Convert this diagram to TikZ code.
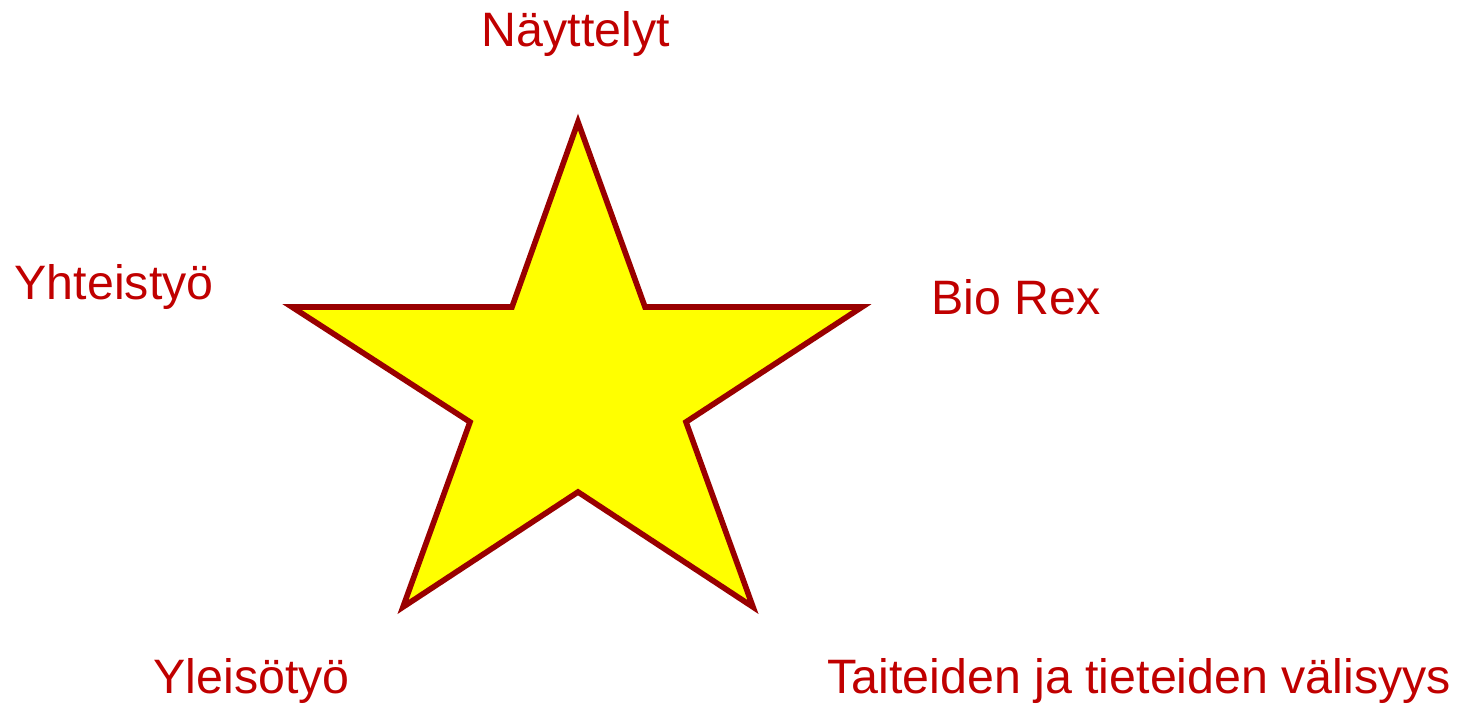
\documentclass[tikz,border=0pt]{standalone}
\usepackage{fontspec}
\setmainfont{Liberation Sans}
\usepackage{tikz}
\usetikzlibrary{positioning}
\definecolor{labelRed}{RGB}{192,0,0}
\definecolor{starEdge}{RGB}{153,0,0}
\definecolor{starFill}{RGB}{255,255,0}

\begin{document}
\begin{tikzpicture}[x=0.1mm, y=-0.1mm,
  every node/.style={inner sep=0pt, anchor=base west, text=labelRed,
    font=\fontsize{13.75}{16}\selectfont}]
  \useasboundingbox (0,0) rectangle (1475,704);
  % Star
  \draw[starEdge, fill=starFill, line width=1.6pt, line join=miter]
    (578,122) -- (645,307) -- (862,307) -- (686,422) -- (753,607)
    -- (578,492) -- (403,607) -- (470,422) -- (292,307) -- (512,307) -- cycle;
  % Labels
  \node (naytt) at (481,47) {Näyttelyt};
  \node (yhteis) at (14,299) {Yhteistyö};
  \node (biorex) at (931,314) {Bio Rex};
  \node (yleiso) at (153,693) {Yleisötyö};
  \node (taide) at (827,693) {Taiteiden ja tieteiden välisyys};
\end{tikzpicture}
\end{document}
